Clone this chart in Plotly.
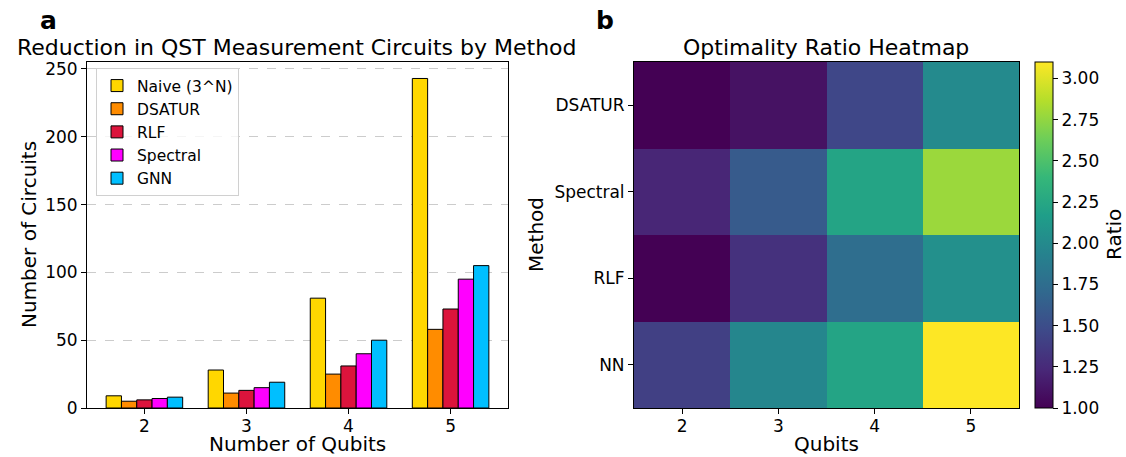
import plotly.graph_objects as go
import numpy as np

qubits = [2, 3, 4, 5]
methods = ["Naive (3^N)", "DSATUR", "RLF", "Spectral", "GNN"]
naive = [9, 28, 81, 243]
dsatur = [5, 11, 25, 58]
rlf = [6, 13, 31, 73]
spectral = [7, 15, 40, 95]
gnn = [8, 19, 50, 105]
bar_colors = ["#FFD700", "#FF8C00", "#DC143C", "#FF00FF", "#00BFFF"]

heat_methods = ["DSATUR", "Spectral", "RLF", "NN"]
heat_dsatur = [1.0, 1.1, 1.45, 2.0]
heat_spectral = [1.22, 1.6, 2.22, 2.78]
heat_rlf = [1.0, 1.3, 1.75, 2.05]
heat_nn = [1.4, 1.97, 2.22, 3.1]
cbar_ticks = [1.0, 1.25, 1.5, 1.75, 2.0, 2.25, 2.5, 2.75, 3.0]

FONT = "DejaVu Sans"
TICK = 17
LAB = 20
TITLE = 22
W, H = 1126, 457
fig = go.Figure()

series = [naive, dsatur, rlf, spectral, gnn]
w = 0.15
for i, (name, vals, col) in enumerate(zip(methods, series, bar_colors)):
    xs = [q + (i - 2) * w for q in qubits]
    fig.add_trace(go.Bar(x=xs, y=vals, width=w, name=name,
                         marker=dict(color=col, line=dict(color="black", width=1)),
                         xaxis="x", yaxis="y"))

ydom = [1 - 408/H, 1 - 62/H]
z = [heat_dsatur, heat_spectral, heat_rlf, heat_nn]
fig.add_trace(go.Heatmap(z=z, x=qubits, y=heat_methods, colorscale="Viridis",
                         zmin=1.0, zmax=3.1, xaxis="x2", yaxis="y2", showscale=True,
                         colorbar=dict(x=1035/W, xanchor="left", thickness=18, xpad=0, ypad=0,
                                       len=346/H, lenmode="fraction",
                                       y=1 - 235/H, yanchor="middle",
                                       outlinewidth=1, outlinecolor="black",
                                       ticks="outside", ticklen=5, tickcolor="black",
                                       tickvals=cbar_ticks,
                                       ticktext=[f"{t:.2f}" for t in cbar_ticks],
                                       tickfont=dict(size=TICK, family=FONT, color="black"))))

axis_common = dict(showline=True, linecolor="black", linewidth=1, mirror=True,
                   ticks="outside", ticklen=5, tickcolor="black", automargin=False,
                   tickfont=dict(size=TICK, family=FONT, color="black"))

fig.update_layout(
    width=W, height=H,
    margin=dict(l=0, r=0, t=0, b=0, autoexpand=False),
    paper_bgcolor="white", plot_bgcolor="white",
    barmode="overlay",
    font=dict(family=FONT, color="black"),
    xaxis=dict(domain=[87/W, 508/W], range=[1.4375, 5.5625],
               tickvals=qubits, ticktext=[str(q) for q in qubits], showgrid=False, zeroline=False,
               **axis_common),
    yaxis=dict(domain=ydom, range=[0, 255.15], tickvals=[0, 50, 100, 150, 200, 250],
               showgrid=True, gridcolor="#cccccc", griddash="dash", gridwidth=1, zeroline=False,
               **axis_common),
    xaxis2=dict(domain=[634/W, 1019/W], range=[1.5, 5.5], tickvals=qubits,
                showgrid=False, zeroline=False, anchor="y2",
                **axis_common),
    yaxis2=dict(domain=ydom, autorange="reversed", showgrid=False, zeroline=False, anchor="x2",
                **axis_common),
    legend=dict(x=96/W, y=1 - 68/H, xanchor="left", yanchor="top",
                bgcolor="rgba(255,255,255,0.8)", bordercolor="#d0d0d0", borderwidth=1,
                font=dict(size=15.5, family=FONT, color="black"), tracegroupgap=0),
    showlegend=True,
)
try:
    fig.update_layout(xaxis_ticklabelstandoff=-2, xaxis2_ticklabelstandoff=-2)
except Exception:
    pass

annots = [
    dict(text="Reduction in QST Measurement Circuits by Method", x=297, y=47, size=TITLE, angle=0, ya="middle"),
    dict(text="Optimality Ratio Heatmap", x=826, y=47, size=TITLE, angle=0, ya="middle"),
    dict(text="<b>a</b>", x=48, y=20, size=25, angle=0, ya="middle"),
    dict(text="<b>b</b>", x=605, y=20, size=25, angle=0, ya="middle"),
    dict(text="Number of Qubits", x=297, y=457, size=LAB, angle=0, ya="bottom"),
    dict(text="Qubits", x=826, y=457, size=LAB, angle=0, ya="bottom"),
    dict(text="Number of Circuits", x=29, y=235, size=LAB, angle=-90, ya="middle"),
    dict(text="Method", x=536, y=235, size=LAB, angle=-90, ya="middle"),
    dict(text="Ratio", x=1114, y=235, size=LAB, angle=-90, ya="middle"),
]
for a in annots:
    fig.add_annotation(text=a["text"], x=a["x"]/W, y=1 - a["y"]/H, xref="paper", yref="paper",
                       showarrow=False, xanchor="center", yanchor=a["ya"], textangle=a["angle"],
                       borderpad=0,
                       font=dict(size=a["size"], family=FONT, color="black"))

fig.write_html("out.html")
